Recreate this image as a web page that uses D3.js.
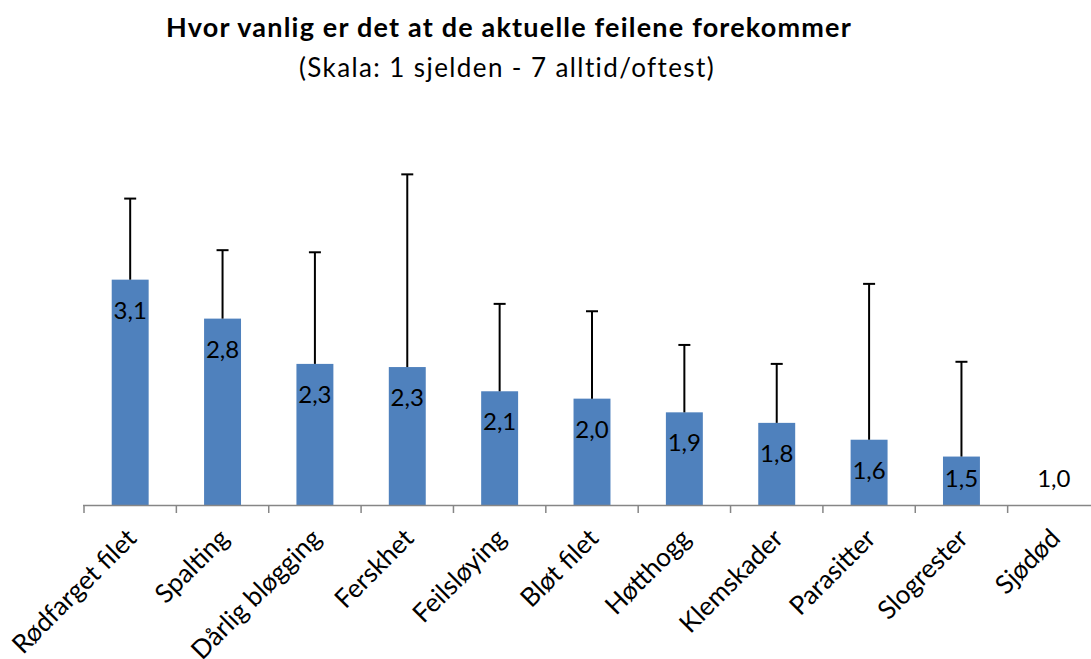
<!DOCTYPE html>
<html>
<head>
<meta charset="utf-8">
<script src="https://cdn.jsdelivr.net/npm/d3@7"></script>
<style>
  body { margin: 0; background: #fff; }
  svg { display: block; font-family: Lato, "Open Sans", sans-serif; }
</style>
</head>
<body>
<svg id="chart"></svg>
<script>
"use strict";

// data
var aCategories = ["Rødfarget filet", "Spalting", "Dårlig bløgging", "Ferskhet", "Feilsløying",
  "Bløt filet", "Høtthogg", "Klemskader", "Parasitter", "Slogrester", "Sjødød"];
var aMeans = [3.14, 2.77, 2.34, 2.31, 2.08, 2.01, 1.88, 1.78, 1.62, 1.46, 1.0];
var aStdDev = [0.77, 0.65, 1.06, 1.83, 0.83, 0.83, 0.64, 0.56, 1.48, 0.90, 0];

var sTitle = "Hvor vanlig er det at de aktuelle feilene forekommer";
var sSubtitle = "(Skala: 1 sjelden - 7 alltid/oftest)";

var iWidth = 1091, iHeight = 659;
var sBar = "#4F81BD";
var sAxis = "#868686";

var svg = d3.select("#chart")
  .attr("width", iWidth)
  .attr("height", iHeight);

// titles
svg.append("text")
  .attr("x", 509).attr("y", 37)
  .attr("text-anchor", "middle")
  .attr("font-size", 27).attr("font-weight", "bold")
  .attr("letter-spacing", 1.2)
  .text(sTitle);

svg.append("text")
  .attr("x", 507).attr("y", 77)
  .attr("text-anchor", "middle")
  .attr("font-size", 26)
  .attr("letter-spacing", 1.4)
  .text(sSubtitle);

// scales
var xScale = d3.scaleBand()
  .domain(aCategories)
  .range([84, 1100])
  .paddingInner(0.6)
  .paddingOuter(0.3);

var fStep = xScale.step();
var fHalf = xScale.bandwidth() / 2;

var yScale = d3.scaleLinear()
  .domain([1, 5])
  .range([505, 505 - 4 * 105.3]);

var data = aCategories.map(function(c, i) {
  return { cat: c, mean: aMeans[i], sd: aStdDev[i] };
});

// bars
svg.append("g").selectAll("rect")
  .data(data)
  .join("rect")
  .attr("x", d => xScale(d.cat))
  .attr("y", d => yScale(d.mean))
  .attr("width", xScale.bandwidth())
  .attr("height", d => yScale(1) - yScale(d.mean))
  .attr("fill", sBar);

// error bars (only upward)
var err = svg.append("g")
  .selectAll("g")
  .data(data.filter(d => d.sd > 0))
  .join("g")
  .attr("stroke", "#000")
  .attr("stroke-width", 2);

err.append("line")
  .attr("x1", d => xScale(d.cat) + fHalf)
  .attr("x2", d => xScale(d.cat) + fHalf)
  .attr("y1", d => yScale(d.mean))
  .attr("y2", d => yScale(d.mean + d.sd));

err.append("line")
  .attr("x1", d => xScale(d.cat) + fHalf - 6)
  .attr("x2", d => xScale(d.cat) + fHalf + 6)
  .attr("y1", d => yScale(d.mean + d.sd))
  .attr("y2", d => yScale(d.mean + d.sd));

// value labels, inside end
svg.append("g").selectAll("text")
  .data(data)
  .join("text")
  .attr("x", d => xScale(d.cat) + fHalf)
  .attr("y", d => Math.min(yScale(d.mean) + 39, 487))
  .attr("text-anchor", "middle")
  .attr("font-size", 24)
  .attr("fill", "#000")
  .text(d => d.mean.toFixed(1).replace(".", ","));

// x axis with ticks between categories
var axis = svg.append("g");

axis.append("line")
  .attr("x1", 83).attr("x2", 1100)
  .attr("y1", 505.5).attr("y2", 505.5)
  .attr("stroke", sAxis).attr("stroke-width", 1.5);

axis.selectAll("line.tick")
  .data(aCategories)
  .join("line")
  .attr("class", "tick")
  .attr("x1", d => xScale(d) + fHalf - fStep / 2)
  .attr("x2", d => xScale(d) + fHalf - fStep / 2)
  .attr("y1", 505)
  .attr("y2", 513)
  .attr("stroke", sAxis).attr("stroke-width", 1.5);

// category labels rotated 45°
axis.selectAll("text")
  .data(aCategories)
  .join("text")
  .attr("transform", d => `translate(${xScale(d) + fHalf + 8}, 540) rotate(-45)`)
  .attr("text-anchor", "end")
  .attr("font-size", 26)
  .attr("fill", "#000")
  .text(d => d);
</script>
</body>
</html>
